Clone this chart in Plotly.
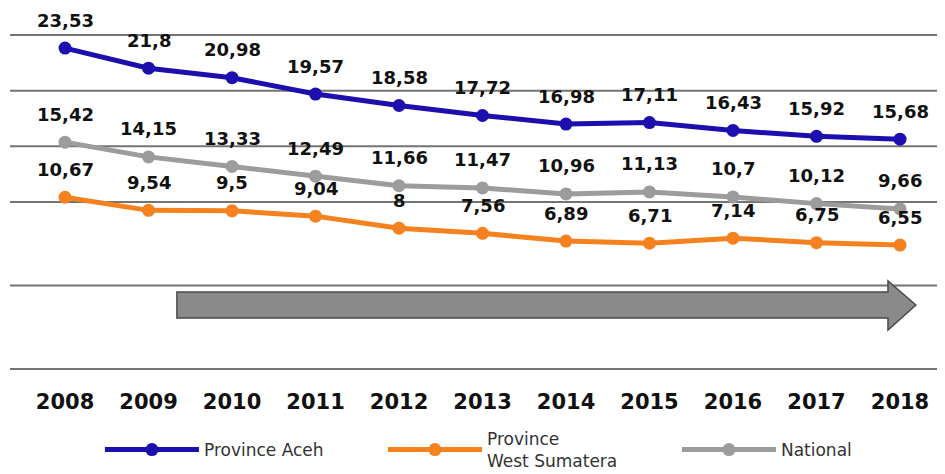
import plotly.graph_objects as go

years = [2008, 2009, 2010, 2011, 2012, 2013, 2014, 2015, 2016, 2017, 2018]
year_labels = [str(y) for y in years]
aceh = [23.53, 21.8, 20.98, 19.57, 18.58, 17.72, 16.98, 17.11, 16.43, 15.92, 15.68]
west_sumatera = [10.67, 9.54, 9.5, 9.04, 8, 7.56, 6.89, 6.71, 7.14, 6.75, 6.55]
national = [15.42, 14.15, 13.33, 12.49, 11.66, 11.47, 10.96, 11.13, 10.7, 10.12, 9.66]

series = [
    ("Province Aceh", aceh, "#1c0fae", "legend", 0.0962),
    ("Province<br>West Sumatera", west_sumatera, "#f5821f", "legend2", 0.3989),
    ("National", national, "#9c9c9c", "legend3", 0.7133),
]

fig = go.Figure()
for name, vals, col, lg, lx in series:
    fig.add_trace(go.Scatter(
        x=years, y=vals, name=name, mode="lines+markers",
        line=dict(color=col, width=5),
        marker=dict(color=col, size=13),
        legend=lg,
    ))

def fmt(v):
    return f"{v:g}".replace(".", ",")

annotations = []
for name, vals, col, lg, lx in series:
    for x, v in zip(years, vals):
        annotations.append(dict(
            x=x, y=v, xref="x", yref="y", text=fmt(v), showarrow=False,
            yshift=28, font=dict(family="DejaVu Sans", size=18, color="#111111", weight="bold"),
        ))

shapes = []
for py in [1, 5/6, 2/3, 0.5, 0.25, 0]:
    shapes.append(dict(type="line", xref="paper", yref="paper", x0=0, x1=1,
                       y0=py, y1=py, line=dict(color="#747474", width=2), layer="below"))

# big grey arrow
ax0, ax1, ax2 = 2009.34, 2017.856, 2018.19
path = (f"M {ax0},0.2305 L {ax1},0.2305 L {ax1},0.2635 L {ax2},0.1916 "
        f"L {ax1},0.1168 L {ax1},0.1527 L {ax0},0.1527 Z")
shapes.append(dict(type="path", xref="x", yref="paper", path=path,
                   fillcolor="#8a8a8a", line=dict(color="#4a4a4a", width=1.5), layer="below"))

legend_style = dict(orientation="h", xanchor="left", y=-0.2425, yanchor="middle",
                    font=dict(family="DejaVu Sans", size=17, color="#333333"),
                    itemwidth=94, bgcolor="rgba(0,0,0,0)")

layout_legends = {}
for name, vals, col, lg, lx in series:
    layout_legends[lg] = dict(legend_style, x=lx)

fig.update_layout(
    width=945, height=474,
    margin=dict(l=2, r=8, t=27, b=113, autoexpand=False),
    paper_bgcolor="white", plot_bgcolor="white",
    showlegend=True,
    xaxis=dict(range=[2007.341, 2018.539], tickvals=years, ticktext=year_labels,
               showgrid=False, zeroline=False, showline=False, ticks="",
               ticklabelstandoff=18,
               tickfont=dict(family="DejaVu Sans", size=21, color="#111111", weight="bold")),
    yaxis=dict(range=[-4.14, 24.66], showgrid=False, zeroline=False, showline=False,
               showticklabels=False, ticks=""),
    annotations=annotations,
    shapes=shapes,
    **layout_legends,
)

fig.write_html("out.html")
